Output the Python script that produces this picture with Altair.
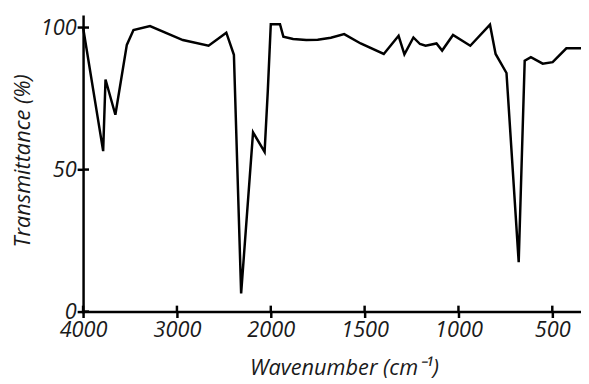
import altair as alt
import pandas as pd

# Spectrum
wavenumber = [4000, 3786, 3761, 3656, 3534, 3463, 3287, 2937, 2663, 2474, 2393,
              2316, 2189, 2066, 2032, 2000, 1951, 1933, 1881, 1811, 1750, 1680,
              1609, 1521, 1398, 1319, 1288, 1240, 1205, 1175, 1117, 1087, 1029,
              937, 832, 802, 744, 679, 647, 614, 551, 498, 425, 347]
transmittance = [100.0, 56.5, 81.7, 69.3, 93.9, 99.1, 100.5, 95.6, 93.6, 98.2, 90.4,
                 6.4, 63.1, 56.2, 77.6, 101.2, 101.2, 96.8, 96.0, 95.6, 95.7, 96.4,
                 97.7, 94.4, 90.7, 97.1, 90.6, 96.5, 94.2, 93.6, 94.4, 91.9, 97.4,
                 93.6, 101.0, 90.7, 84.0, 17.4, 88.3, 89.6, 87.3, 87.8, 92.7, 92.7]
x_ticks = [4000, 3000, 2000, 1500, 1000, 500]
y_ticks = [0, 50, 100]

W, H = 504, 299
FONT = "Open Sans"
df = pd.DataFrame({"wn": wavenumber, "T": transmittance})
xt = pd.DataFrame({"wn": x_ticks})
yt = pd.DataFrame({"T": y_ticks})

xscale = alt.Scale(domain=[4000, 2000, 347], range=[0, 190, W], nice=False, zero=False)
yscale = alt.Scale(domain=[0, 104], nice=False, zero=True)

xaxis = alt.Axis(values=x_ticks, format="d", title="Wavenumber (cm⁻¹)", grid=False,
                 tickSize=6, labelPadding=2, labelFlush=False,
                 titleX=264, titleY=63.7, titleAlign="center",
                 titleBaseline="alphabetic", labelOverlap=False)
yaxis = alt.Axis(values=y_ticks, format="d", title="Transmittance (%)", grid=False,
                 tickSize=6, labelPadding=1, labelFlush=False,
                 titleX=-54, titleY=146, titleAlign="center",
                 titleBaseline="alphabetic", titleAngle=270)

line = alt.Chart(df).mark_line(color="black", strokeWidth=2.5, strokeJoin="miter").encode(
    x=alt.X("wn:Q", scale=xscale, axis=xaxis),
    y=alt.Y("T:Q", scale=yscale, axis=yaxis),
    order=alt.Order("idx:Q"),
).transform_window(idx="row_number()")

xtick_in = alt.Chart(xt).mark_rule(color="black", strokeWidth=2.5).encode(
    x=alt.X("wn:Q", scale=xscale, axis=xaxis),
    y=alt.value(H - 6), y2=alt.value(H),
)
ytick_in = alt.Chart(yt).mark_rule(color="black", strokeWidth=2.5).encode(
    y=alt.Y("T:Q", scale=yscale, axis=yaxis),
    x=alt.value(0), x2=alt.value(6),
)

chart = alt.layer(line, xtick_in, ytick_in).properties(
    width=W, height=H,
    autosize=alt.AutoSizeParams(type="none"),
    padding={"left": 76, "top": 6, "right": 0, "bottom": 70},
    background="white",
).configure_view(stroke=None).configure_axis(
    domainColor="black", domainWidth=2.5, domainCap="square",
    tickColor="black", tickWidth=2.5,
    labelFont=FONT, labelFontStyle="italic", labelFontSize=22, labelColor="#1a1a1a",
    titleFont=FONT, titleFontStyle="italic", titleFontWeight="normal",
    titleFontSize=22, titleColor="#1a1a1a",
)

chart.save("out.html", embed_options={"renderer": "svg", "actions": False})
